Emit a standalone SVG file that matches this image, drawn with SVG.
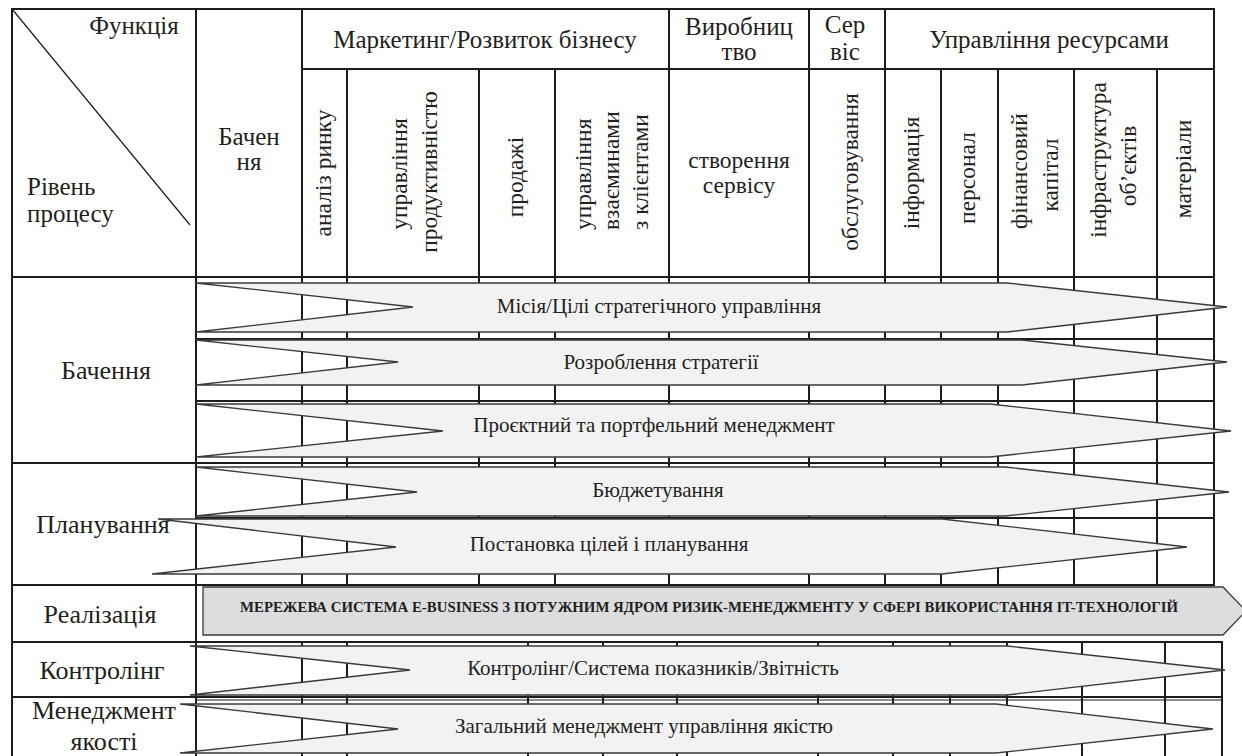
<svg xmlns="http://www.w3.org/2000/svg" width="1242" height="756" viewBox="0 0 1242 756">
<defs>
<style>
.g{stroke:#1c1c1c;stroke-width:2;fill:none;stroke-linecap:square}
.thin{stroke:#1c1c1c;stroke-width:1.2;fill:none}
.arr{fill:#f2f2f2;stroke:#3a3a3a;stroke-width:1.3}
.box{fill:#dcdddf;stroke:#3a3a3a;stroke-width:1.3}
text{font-family:"Liberation Serif","Times New Roman",serif;fill:#231f20}
.h{font-size:25px}
.lab{font-size:26px;text-anchor:middle}
.v{font-size:23.5px;text-anchor:middle}
.vs{font-size:23.5px;text-anchor:start}
.c{text-anchor:middle}
.at{font-size:21px;text-anchor:middle}
.bold{font-size:15px;font-weight:bold}
</style>
</defs>
<rect width="1242" height="756" fill="#ffffff"/>
<g id="connectors">
<g id="grid-upper">
<line class="g" x1="12" y1="9" x2="1214" y2="9"/>
<line class="g" x1="12" y1="9" x2="12" y2="756"/>
<line class="g" x1="1214" y1="9" x2="1214" y2="585"/>
<line class="g" x1="302" y1="69" x2="1214" y2="69"/>
<line class="g" x1="12" y1="277" x2="1214" y2="277"/>
<line class="g" x1="196" y1="9" x2="196" y2="756"/>
<line class="g" x1="302" y1="9" x2="302" y2="585"/>
<line class="g" x1="669" y1="9" x2="669" y2="585"/>
<line class="g" x1="809" y1="9" x2="809" y2="585"/>
<line class="g" x1="885" y1="9" x2="885" y2="585"/>
<line class="g" x1="347" y1="69" x2="347" y2="585"/>
<line class="g" x1="479" y1="69" x2="479" y2="585"/>
<line class="g" x1="555" y1="69" x2="555" y2="585"/>
<line class="g" x1="941" y1="69" x2="941" y2="585"/>
<line class="g" x1="998" y1="69" x2="998" y2="585"/>
<line class="g" x1="1074" y1="69" x2="1074" y2="585"/>
<line class="g" x1="1157" y1="69" x2="1157" y2="585"/>
<line class="g" x1="196" y1="339" x2="1214" y2="339"/>
<line class="g" x1="196" y1="401" x2="1214" y2="401"/>
<line class="g" x1="12" y1="463" x2="1214" y2="463"/>
<line class="g" x1="196" y1="518" x2="1214" y2="518"/>
<line class="g" x1="12" y1="585" x2="1214" y2="585"/>
<line class="thin" x1="12" y1="9" x2="190" y2="225"/>
</g>
<g id="grid-lower">
<line class="g" x1="12" y1="642" x2="1222" y2="642"/>
<line class="g" x1="12" y1="697" x2="1222" y2="697"/>
<line class="thin" x1="196" y1="700" x2="1222" y2="700"/>
<line class="g" x1="1222" y1="642" x2="1222" y2="756"/>
<line class="g" x1="302" y1="642" x2="302" y2="756"/>
<line class="g" x1="347" y1="642" x2="347" y2="756"/>
<line class="g" x1="528" y1="642" x2="528" y2="756"/>
<line class="g" x1="603" y1="642" x2="603" y2="756"/>
<line class="g" x1="677" y1="642" x2="677" y2="756"/>
<line class="g" x1="818" y1="642" x2="818" y2="756"/>
<line class="g" x1="893" y1="642" x2="893" y2="756"/>
<line class="g" x1="950" y1="642" x2="950" y2="756"/>
<line class="g" x1="1007" y1="642" x2="1007" y2="756"/>
<line class="g" x1="1082" y1="642" x2="1082" y2="756"/>
<line class="g" x1="1165" y1="642" x2="1165" y2="756"/>
</g>
</g>

<g id="header">
<text class="h c" x="134" y="34">Функція</text>
<text class="h" x="27" y="195">Рівень</text>
<text class="h" x="27" y="222">процесу</text>
<text class="h c" x="249" y="145">Бачен</text>
<text class="h c" x="249" y="170">ня</text>
<text class="h c" x="485" y="48">Маркетинг/Розвиток бізнесу</text>
<text class="h c" x="739" y="35">Виробниц</text>
<text class="h c" x="739" y="60">тво</text>
<text class="h c" x="845" y="33">Сер</text>
<text class="h c" x="845" y="60">віс</text>
<text class="h c" x="1049" y="48">Управління ресурсами</text>
<text class="v" transform="translate(331,173) rotate(-90)">аналіз ринку</text>
<text class="v" transform="translate(407,174) rotate(-90)">управління</text>
<text class="v" transform="translate(437,172) rotate(-90)">продуктивністю</text>
<text class="v" transform="translate(523,177) rotate(-90)">продажі</text>
<text class="vs" transform="translate(591,230) rotate(-90)">управління</text>
<text class="vs" transform="translate(619,230) rotate(-90)">взаєминами</text>
<text class="vs" transform="translate(648,230) rotate(-90)">з клієнтами</text>
<text class="v" x="739" y="168">створення</text>
<text class="v" x="739" y="193">сервісу</text>
<text class="v" transform="translate(858,172) rotate(-90)">обслуговування</text>
<text class="v" transform="translate(919,173) rotate(-90)">інформація</text>
<text class="v" transform="translate(975,178) rotate(-90)">персонал</text>
<text class="v" transform="translate(1027,171) rotate(-90)">фінансовий</text>
<text class="v" transform="translate(1058,175) rotate(-90)">капітал</text>
<text class="v" transform="translate(1106,160) rotate(-90)">інфраструктура</text>
<text class="v" transform="translate(1136,166) rotate(-90)">об’єктів</text>
<text class="v" transform="translate(1191,169) rotate(-90)">матеріали</text>
</g>

<g id="arrow-misiia">
<polygon class="arr" points="196,283 1007,283 1227,307 1007,332 196,332 413,307"/>
<text class="at" x="659" y="313">Місія/Цілі стратегічного управління</text>
</g>
<g id="arrow-strategy">
<polygon class="arr" points="196,340 1022,340 1227,362 1022,385 196,385 398,362"/>
<text class="at" x="661" y="369">Розроблення стратегії</text>
</g>
<g id="arrow-project">
<polygon class="arr" points="196,404 990,404 1231,431 990,457 196,457 443,431"/>
<text class="at" x="654" y="432">Проєктний та портфельний менеджмент</text>
</g>
<g id="arrow-budget">
<polygon class="arr" points="196,467 1005,467 1229,492 1005,516 196,516 417,492"/>
<text class="at" x="658" y="497">Бюджетування</text>
</g>
<g id="arrow-goals">
<polygon class="arr" points="158,519 942,519 1187,547 942,574 152,574 396,547"/>
<text class="at" x="609" y="551">Постановка цілей і планування</text>
</g>
<g id="realization-box">
<polygon class="box" points="203,587 1223,587 1246,611 1223,635 203,635"/>
<text class="bold" x="240" y="612" textLength="938" lengthAdjust="spacingAndGlyphs">МЕРЕЖЕВА СИСТЕМА E-BUSINESS З ПОТУЖНИМ ЯДРОМ РИЗИК-МЕНЕДЖМЕНТУ У СФЕРІ ВИКОРИСТАННЯ IT-ТЕХНОЛОГІЙ</text>
</g>
<g id="arrow-controlling">
<polygon class="arr" points="190,646 1007,646 1225,670 1007,695 190,695 410,670"/>
<text class="at" x="653" y="675">Контролінг/Система показників/Звітність</text>
</g>
<g id="arrow-quality">
<polygon class="arr" points="180,704 996,704 1213,729 996,753 180,753 398,729"/>
<text class="at" x="644" y="733">Загальний менеджмент управління якістю</text>
</g>

<g id="row-labels">
<text class="lab" x="106" y="379">Бачення</text>
<text class="lab" x="103" y="533">Планування</text>
<text class="lab" x="100" y="623">Реалізація</text>
<text class="lab" x="102" y="679">Контролінг</text>
<text class="lab" x="104" y="719">Менеджмент</text>
<text class="lab" x="104" y="750">якості</text>
</g>
</svg>
